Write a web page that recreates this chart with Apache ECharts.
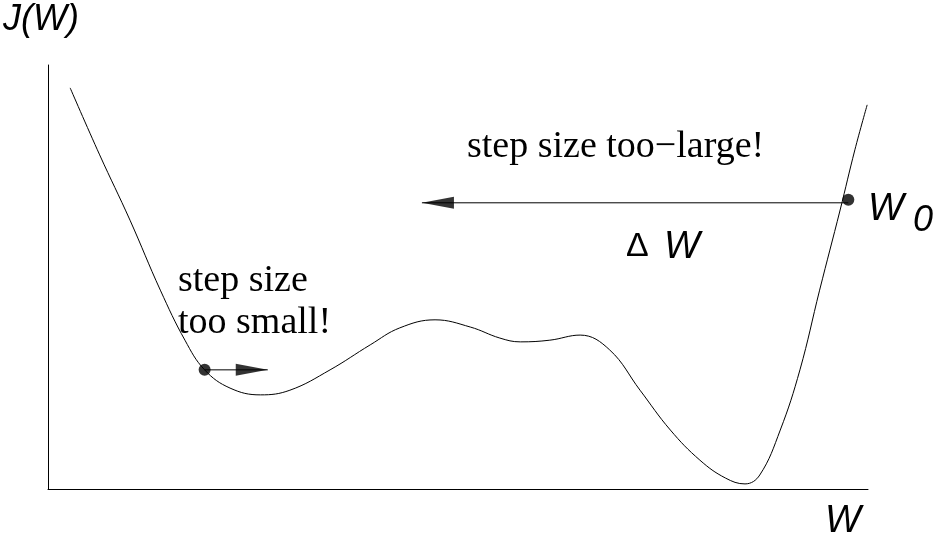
<!DOCTYPE html>
<html>
<head>
<meta charset="utf-8">
<script src="https://cdn.jsdelivr.net/npm/echarts@6/dist/echarts.min.js"></script>
<style>html,body{margin:0;padding:0;background:#fff}#main{width:936px;height:538px}</style>
</head>
<body>
<div id="main"></div>
<script>
// cost curve J(W)
var curveX = [2.7, 6.3, 10.0, 13.7, 16.7, 19.1, 22.2, 25.9, 29.5, 34.4, 39.3, 42.9, 47.2, 51.5, 55.1, 57.6, 61.2, 64.9, 68.5, 72.2, 75.9, 79.5, 82.6, 85.0, 86.8, 89.3, 91.7, 94.1, 96.6, 98.4, 99.9];
var curveY = [94.6, 78.8, 63.4, 46.9, 35.1, 28.1, 23.8, 22.2, 23.3, 28.1, 34.0, 38.0, 39.9, 38.2, 35.6, 34.7, 35.1, 36.3, 32.8, 23.3, 13.9, 6.8, 2.6, 1.2, 3.3, 13.9, 28.1, 46.9, 65.8, 80.0, 90.6];
var dots = [[19.1, 28.1], [97.6, 68.2]];
var smallStep = [[19.1, 28.1], [26.8, 28.1]];
var bigStep = [[97.6, 67.5], [45.6, 67.5]];

var myChart = echarts.init(document.getElementById('main'));
var serif = 'Liberation Serif';
var sans = 'Liberation Sans';

var option = {
  animation: false,
  grid: { left: 48, right: 68, top: 65, bottom: 49 },
  xAxis: {
    type: 'value', min: 0, max: 100,
    axisLine: { lineStyle: { color: '#000', width: 1 } },
    axisTick: { show: false }, axisLabel: { show: false }, splitLine: { show: false }
  },
  yAxis: {
    type: 'value', min: 0, max: 100,
    axisLine: { show: true, lineStyle: { color: '#000', width: 1 } },
    axisTick: { show: false }, axisLabel: { show: false }, splitLine: { show: false }
  },
  graphic: [
    { type: 'text', left: 3, top: 2, style: { text: 'J(W)', font: 'italic 36px ' + sans, fill: '#000' } },
    { type: 'text', left: 825, top: 502, style: { text: 'W', font: 'italic 38px ' + sans, fill: '#000' } },
    { type: 'text', left: 467, top: 128, style: { text: 'step size too\u2212large!', font: '38px ' + serif, fill: '#000' } },
    { type: 'text', left: 626, top: 230, style: { text: '\u0394', font: '34px ' + sans, fill: '#000' } },
    { type: 'text', left: 664, top: 228, style: { text: 'W', font: 'italic 38px ' + sans, fill: '#000' } },
    { type: 'text', left: 178, top: 262, style: { text: 'step size', font: '38px ' + serif, fill: '#000' } },
    { type: 'text', left: 178, top: 304, style: { text: 'too small!', font: '38px ' + serif, fill: '#000' } },
    { type: 'text', left: 868, top: 190, style: { text: 'W', font: 'italic 38px ' + sans, fill: '#000' } },
    { type: 'text', left: 913, top: 203, style: { text: '0', font: 'italic 36px ' + sans, fill: '#000' } }
  ],
  series: [
    {
      type: 'line', smooth: 0.4, symbol: 'none',
      data: curveX.map(function (x, i) { return [x, curveY[i]]; }),
      lineStyle: { color: '#000', width: 1 }
    },
    {
      type: 'line', symbol: 'none', data: smallStep,
      lineStyle: { color: '#000', width: 1 }
    },
    {
      type: 'line', symbol: 'none', data: bigStep,
      lineStyle: { color: '#000', width: 1 }
    },
    {
      type: 'scatter', symbol: 'path://M0,0 L30,6 L0,12 Z', symbolKeepAspect: false,
      symbolSize: [32, 12], symbolOffset: ['-50%', 0],
      itemStyle: { color: '#000' }, data: [smallStep[1]]
    },
    {
      type: 'scatter', symbol: 'path://M30,0 L0,6 L30,12 Z', symbolKeepAspect: false,
      symbolSize: [32, 12], symbolOffset: ['50%', 0],
      itemStyle: { color: '#000' }, data: [bigStep[1]]
    },
    {
      type: 'scatter', symbol: 'circle', symbolSize: 12,
      itemStyle: { color: '#000' }, data: dots
    }
  ]
};

myChart.setOption(option);
</script>
</body>
</html>
